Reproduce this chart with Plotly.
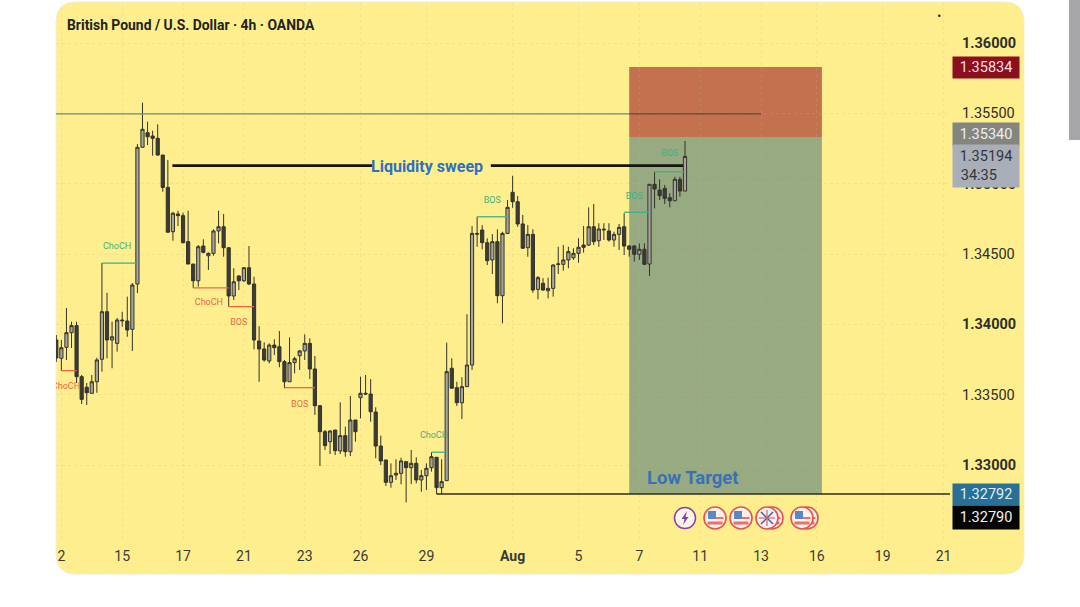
import plotly.graph_objects as go

# GBP/USD 4h candles, oldest first
opens = [1.33889, 1.33759, 1.33837, 1.33941, 1.33991, 1.33628, 1.33553, 1.33510, 1.33592, 1.33752,
         1.34090, 1.33889, 1.33865, 1.34031, 1.34024, 1.33965, 1.34287, 1.35259, 1.35363, 1.35339,
         1.35323, 1.35204, 1.34974, 1.34659, 1.34785, 1.34773, 1.34588, 1.34429, 1.34310, 1.34557,
         1.34488, 1.34505, 1.34664, 1.34694, 1.34545, 1.34202, 1.34344, 1.34310, 1.34403, 1.34287,
         1.33882, 1.33825, 1.33740, 1.33853, 1.33841, 1.33735, 1.33592, 1.33728, 1.33777, 1.33811,
         1.33865, 1.33683, 1.33422, 1.33237, 1.33166, 1.33249, 1.33100, 1.33209, 1.33095, 1.33320,
         1.33479, 1.33510, 1.33505, 1.33377, 1.33135, 1.33036, 1.32877, 1.32929, 1.32941, 1.33024,
         1.32981, 1.33012, 1.32894, 1.32924, 1.32981, 1.33055, 1.32839, 1.32889, 1.33688, 1.33550,
         1.33443, 1.33557, 1.33711, 1.34647, 1.34671, 1.34581, 1.34458, 1.34588, 1.34204, 1.34647,
         1.34939, 1.34872, 1.34714, 1.34545, 1.34640, 1.34249, 1.34292, 1.34239, 1.34256, 1.34427,
         1.34427, 1.34458, 1.34474, 1.34505, 1.34564, 1.34564, 1.34694, 1.34595, 1.34671, 1.34664,
         1.34600, 1.34640, 1.34694, 1.34557, 1.34557, 1.34498, 1.34534, 1.34429, 1.34996, 1.34955,
         1.34967, 1.34901, 1.34879, 1.35031, 1.34948]
highs = [1.33924, 1.33889, 1.34116, 1.34019, 1.34019, 1.33640, 1.33583, 1.33640, 1.33763, 1.34436,
         1.34225, 1.34019, 1.34045, 1.34090, 1.34197, 1.34294, 1.35282, 1.35576, 1.35441, 1.35377,
         1.35422, 1.35204, 1.35169, 1.34801, 1.34808, 1.34794, 1.34808, 1.34429, 1.34564, 1.34605,
         1.34512, 1.34676, 1.34808, 1.34785, 1.34545, 1.34399, 1.34351, 1.34403, 1.34557, 1.34339,
         1.33988, 1.33873, 1.33865, 1.33894, 1.33953, 1.33747, 1.33908, 1.33770, 1.33818, 1.33929,
         1.33901, 1.33775, 1.33427, 1.33249, 1.33249, 1.33249, 1.33446, 1.33273, 1.33491, 1.33320,
         1.33628, 1.33640, 1.33610, 1.33411, 1.33209, 1.33036, 1.33012, 1.33041, 1.33052, 1.33024,
         1.33107, 1.33055, 1.32965, 1.33012, 1.33091, 1.33055, 1.33041, 1.33870, 1.33759, 1.33592,
         1.33624, 1.34072, 1.34699, 1.34765, 1.34706, 1.34612, 1.34642, 1.34676, 1.34659, 1.34884,
         1.35057, 1.34913, 1.34778, 1.34706, 1.34676, 1.34344, 1.34328, 1.34332, 1.34427, 1.34552,
         1.34564, 1.34552, 1.34541, 1.34612, 1.34699, 1.34832, 1.34856, 1.34719, 1.34719, 1.34719,
         1.34659, 1.34714, 1.34790, 1.34564, 1.34564, 1.34576, 1.34576, 1.34996, 1.35085, 1.35031,
         1.34991, 1.34932, 1.35050, 1.35050, 1.35304]
lows = [1.33733, 1.33669, 1.33747, 1.33832, 1.33583, 1.33434, 1.33427, 1.33510, 1.33514, 1.33664,
        1.33759, 1.33688, 1.33806, 1.33983, 1.33912, 1.33811, 1.34223, 1.35259, 1.35275, 1.35199,
        1.35199, 1.34943, 1.34655, 1.34595, 1.34699, 1.34576, 1.34429, 1.34259, 1.34268, 1.34505,
        1.34387, 1.34488, 1.34576, 1.34481, 1.34126, 1.34173, 1.34244, 1.34301, 1.34280, 1.33823,
        1.33592, 1.33735, 1.33723, 1.33782, 1.33695, 1.33546, 1.33592, 1.33652, 1.33676, 1.33747,
        1.33612, 1.33356, 1.32993, 1.33107, 1.33078, 1.33071, 1.33078, 1.33059, 1.33064, 1.33166,
        1.33332, 1.33498, 1.33308, 1.33048, 1.33000, 1.32851, 1.32839, 1.32894, 1.32863, 1.32735,
        1.32865, 1.32870, 1.32810, 1.32823, 1.32953, 1.32794, 1.32794, 1.32889, 1.33546, 1.33420,
        1.33327, 1.33557, 1.33676, 1.34552, 1.34534, 1.34422, 1.34358, 1.34150, 1.34008, 1.34642,
        1.34829, 1.34694, 1.34536, 1.34481, 1.34225, 1.34178, 1.34239, 1.34185, 1.34197, 1.34358,
        1.34382, 1.34399, 1.34458, 1.34438, 1.34510, 1.34557, 1.34564, 1.34552, 1.34600, 1.34588,
        1.34552, 1.34529, 1.34493, 1.34481, 1.34446, 1.34458, 1.34422, 1.34344, 1.34825, 1.34884,
        1.34856, 1.34832, 1.34879, 1.34908, 1.34948]
closes = [1.33761, 1.33834, 1.33941, 1.33991, 1.33628, 1.33467, 1.33514, 1.33592, 1.33747, 1.34090,
          1.33889, 1.33912, 1.34031, 1.34026, 1.33960, 1.34280, 1.35259, 1.35387, 1.35334, 1.35323,
          1.35204, 1.34974, 1.34655, 1.34790, 1.34773, 1.34581, 1.34429, 1.34310, 1.34552, 1.34512,
          1.34505, 1.34664, 1.34694, 1.34545, 1.34202, 1.34303, 1.34310, 1.34403, 1.34287, 1.33889,
          1.33825, 1.33747, 1.33853, 1.33834, 1.33735, 1.33592, 1.33728, 1.33756, 1.33811, 1.33865,
          1.33683, 1.33422, 1.33237, 1.33138, 1.33242, 1.33102, 1.33209, 1.33095, 1.33320, 1.33237,
          1.33510, 1.33505, 1.33379, 1.33135, 1.33029, 1.32877, 1.32924, 1.32941, 1.33029, 1.32981,
          1.33012, 1.32894, 1.32924, 1.32977, 1.33059, 1.32839, 1.32882, 1.33664, 1.33546, 1.33443,
          1.33557, 1.33711, 1.34647, 1.34642, 1.34581, 1.34453, 1.34588, 1.34204, 1.34647, 1.34832,
          1.34872, 1.34714, 1.34541, 1.34640, 1.34244, 1.34332, 1.34244, 1.34256, 1.34422, 1.34429,
          1.34458, 1.34517, 1.34505, 1.34548, 1.34548, 1.34694, 1.34588, 1.34678, 1.34676, 1.34600,
          1.34640, 1.34690, 1.34557, 1.34534, 1.34498, 1.34534, 1.34427, 1.34996, 1.34962, 1.34915,
          1.34896, 1.34879, 1.35031, 1.34948, 1.35194]

candle_index = list(range(len(closes)))

x_tick_index = [1, 13, 25, 37, 49, 60, 73, 90, 103, 115, 127, 139, 150, 163, 175]
x_tick_text = ["2", "15", "17", "21", "23", "26", "29", "<b>Aug</b>", "5", "7", "11", "13", "16", "19", "21"]
y_tick_vals = [1.36, 1.355, 1.35, 1.345, 1.34, 1.335, 1.33]
y_tick_text = ["<b>1.36000</b>", "1.35500", "<b>1.35000</b>", "1.34500", "<b>1.34000</b>", "1.33500", "<b>1.33000</b>"]

# market structure levels: start index, end index, price, colour name
level_start = [9, 27, 34, 1, 45, 83, 112, 118, 74]
level_end = [16, 34, 39, 4, 51, 89, 117, 124, 77]
level_price = [1.34436, 1.34259, 1.34126, 1.33671, 1.33550, 1.34765, 1.34797, 1.35085, 1.33091]
level_side = ["g", "r", "r", "r", "r", "g", "g", "g", "g"]
label_text = ["ChoCH", "ChoCH", "BOS", "ChoCH", "BOS", "BOS", "BOS", "BOS", "ChoCH"]
label_index = [12, 30.1, 36, 1.9, 48, 86, 114, 121, 74.5]
label_price = [1.34550, 1.34152, 1.34013, 1.33555, 1.33427, 1.34879, 1.34906, 1.35211, 1.33206]

# short position box
box_start, box_end = 113, 151
stop_price, entry_price, target_price = 1.35830, 1.35332, 1.32794
sweep_price = 1.35129
top_line_price = 1.35496

GREEN = "#3fb184"
RED = "#e8694a"
GRID = "rgba(200,190,130,0.22)"

L, R, T, B = 56, 950, 2, 540
W, H = R - L, B - T


def px(x):
    return (x - L) / W


def py(y):
    return (B - y) / H


fig = go.Figure()

# card, scrollbar, position box
shapes = []
card = (f"M {px(76)} {py(2)} L {px(1004)} {py(2)} Q {px(1024)} {py(2)} {px(1024)} {py(22)} "
        f"L {px(1024)} {py(554)} Q {px(1024)} {py(574)} {px(1004)} {py(574)} "
        f"L {px(76)} {py(574)} Q {px(56)} {py(574)} {px(56)} {py(554)} "
        f"L {px(56)} {py(22)} Q {px(56)} {py(2)} {px(76)} {py(2)} Z")
shapes.append(dict(type="path", path=card, xref="paper", yref="paper", fillcolor="#feee8e",
                   line=dict(color="#f1ecd8", width=1), layer="below"))
shapes.append(dict(type="rect", xref="paper", yref="paper", x0=px(1069), x1=px(1080), y0=py(0), y1=py(140),
                   fillcolor="#a7a7aa", line_width=0, layer="below"))
shapes.append(dict(type="rect", x0=box_start, x1=box_end, y0=entry_price, y1=stop_price,
                   fillcolor="#c3714e", line_width=0, layer="below"))
shapes.append(dict(type="rect", x0=box_start, x1=box_end, y0=target_price, y1=entry_price,
                   fillcolor="#97aa82", line_width=0, layer="below"))
# small dot top right
shapes.append(dict(type="circle", xref="paper", yref="paper", x0=px(938), x1=px(940.5), y0=py(17), y1=py(14.5),
                   fillcolor="#222222", line_width=0))


def flag(cx, cy=518, r=11):
    out = [dict(type="circle", xref="paper", yref="paper", x0=px(cx - r), x1=px(cx + r), y0=py(cy + r), y1=py(cy - r),
                fillcolor="#fbf1ea", line=dict(color="#e5534b", width=1.6))]
    out.append(dict(type="rect", xref="paper", yref="paper", x0=px(cx - 7.5), x1=px(cx + 7.5), y0=py(cy + 6.5), y1=py(cy + 3.5),
                    fillcolor="#ea7068", line_width=0))
    out.append(dict(type="rect", xref="paper", yref="paper", x0=px(cx + 1), x1=px(cx + 8.5), y0=py(cy + 1), y1=py(cy - 1),
                    fillcolor="#ea7068", line_width=0))
    out.append(dict(type="rect", xref="paper", yref="paper", x0=px(cx - 7), x1=px(cx + 1), y0=py(cy + 1), y1=py(cy - 7),
                    fillcolor="#5b87c4", line_width=0))
    return out


def uk_flag(cx, cy=518, r=11):
    out = [dict(type="circle", xref="paper", yref="paper", x0=px(cx - r), x1=px(cx + r), y0=py(cy + r), y1=py(cy - r),
                fillcolor="#f3eef0", line=dict(color="#e5534b", width=1.6))]
    for dx, dy, col, w in [(6, 6, "#4a5a96", 1.5), (6, -6, "#4a5a96", 1.5), (8, 0, "#d9666c", 1.2), (0, 8, "#d9666c", 1.2)]:
        out.append(dict(type="line", xref="paper", yref="paper", x0=px(cx - dx), x1=px(cx + dx),
                        y0=py(cy - dy), y1=py(cy + dy), line=dict(color=col, width=w)))
    return out


# event icons below the chart
shapes.append(dict(type="circle", xref="paper", yref="paper", x0=px(674.5), x1=px(695.5), y0=py(528.5), y1=py(507.5),
                   fillcolor="#fdf6e6", line=dict(color="#8a3fa8", width=1.5)))
bolt = (f"M {px(687)} {py(511)} L {px(681.5)} {py(519)} L {px(684.5)} {py(519)} "
        f"L {px(683)} {py(525)} L {px(688.5)} {py(517)} L {px(685.5)} {py(517)} Z")
shapes.append(dict(type="path", path=bolt, xref="paper", yref="paper", fillcolor="#8a3fa8", line_width=0))
shapes += flag(715) + flag(741)
shapes += flag(772) + uk_flag(767)
shapes += flag(807) + flag(802)

# levels go under the candles
for x0, x1, lvl, side in zip(level_start, level_end, level_price, level_side):
    fig.add_trace(go.Scatter(x=[x0, x1], y=[lvl, lvl], mode="lines", showlegend=False,
                             line=dict(color=GREEN if side == "g" else RED, width=1.3)))

fig.add_trace(go.Scatter(x=label_index, y=label_price, text=label_text, mode="text", showlegend=False,
                         textfont=dict(family="Roboto", size=9,
                                       color=[GREEN if s == "g" else RED for s in level_side])))

# the thin line turns dark where it crosses the red box
fig.add_trace(go.Scatter(x=[-0.06, box_start], y=[top_line_price, top_line_price], mode="lines", showlegend=False,
                         line=dict(color="#5f8f78", width=1.2)))
fig.add_trace(go.Scatter(x=[box_start, 139], y=[top_line_price, top_line_price], mode="lines", showlegend=False,
                         line=dict(color="#5a4a38", width=1.2)))

fig.add_trace(go.Scatter(x=[75, 176.3], y=[target_price, target_price], mode="lines", showlegend=False,
                         line=dict(color="#2b2b20", width=1.6)))

# liquidity sweep line, broken where the label sits
fig.add_trace(go.Scatter(x=[22.9, 62.3, None, 85.7, 123.6], y=[sweep_price, sweep_price, None, sweep_price, sweep_price],
                         mode="lines", showlegend=False, line=dict(color="#141410", width=2.6)))

fig.add_trace(go.Candlestick(x=candle_index, open=opens, high=highs, low=lows, close=closes,
                             showlegend=False, whiskerwidth=0,
                             increasing=dict(fillcolor="#a6a69e", line=dict(color="#33332a", width=1)),
                             decreasing=dict(fillcolor="#3b3b38", line=dict(color="#33332a", width=1))))

annotations = [
    dict(text="<b>British Pound / U.S. Dollar · 4h · OANDA</b>", xref="paper", yref="paper", x=px(65), y=py(25),
         xanchor="left", yanchor="middle", showarrow=False, font=dict(family="Roboto", size=13.9, color="#222222")),
    dict(text="<b>Liquidity sweep</b>", x=73.1, y=1.35119, showarrow=False,
         font=dict(family="Roboto", size=16, color="#2f6fc4")),
    dict(text="<b>Low Target</b>", x=125.6, y=1.32908, showarrow=False,
         font=dict(family="Roboto", size=18.5, color="#3a70b4")),
]

# price tags on the right
tag_text = ["1.35834", "1.35340", "1.35194<br>34:35&nbsp;&nbsp;&nbsp;&nbsp;", "1.32792", "1.32790"]
tag_y = [67.5, 134, 166, 494, 517]
tag_h = [21, 23, 42, 21, 23]
tag_bg = ["#8c0f20", "#85857f", "#a9aeb9", "#2a6f96", "#050505"]
tag_fg = ["#f7dfe0", "#eeeeee", "#34363d", "#dfeef5", "#f2f2f2"]
for t, y, h, bg, fg in zip(tag_text, tag_y, tag_h, tag_bg, tag_fg):
    annotations.append(dict(text=t, xref="paper", yref="paper", x=px(986), y=py(y), xanchor="center", yanchor="middle",
                            width=66, height=h, bgcolor=bg, showarrow=False, borderpad=0,
                            font=dict(family="Roboto", size=14.5, color=fg)))

fig.update_layout(
    width=1080, height=607,
    margin=dict(l=L, r=1080 - R, t=T, b=607 - B, autoexpand=False),
    paper_bgcolor="white",
    plot_bgcolor="rgba(0,0,0,0)",
    boxgap=0.1,
    shapes=shapes,
    annotations=annotations,
    showlegend=False,
    xaxis=dict(range=[-0.06, 176.27], rangeslider=dict(visible=False), tickmode="array",
               tickvals=x_tick_index, ticktext=x_tick_text, showgrid=True, griddash="dot",
               gridcolor=GRID, zeroline=False, showline=False, ticks="",
               ticklabelstandoff=6, tickfont=dict(family="Roboto", size=14, color="#3a3a35")),
    yaxis=dict(range=[1.32467, 1.36292], side="right", tickmode="array",
               tickvals=y_tick_vals, ticktext=y_tick_text, showgrid=True, griddash="dot",
               gridcolor=GRID, zeroline=False, showline=False, ticks="",
               ticklabelstandoff=11, tickfont=dict(family="Roboto", size=14.5, color="#2e2e28")),
)

fig.write_html("out.html", post_script="document.body.style.margin='0';", config=dict(displayModeBar=False))
